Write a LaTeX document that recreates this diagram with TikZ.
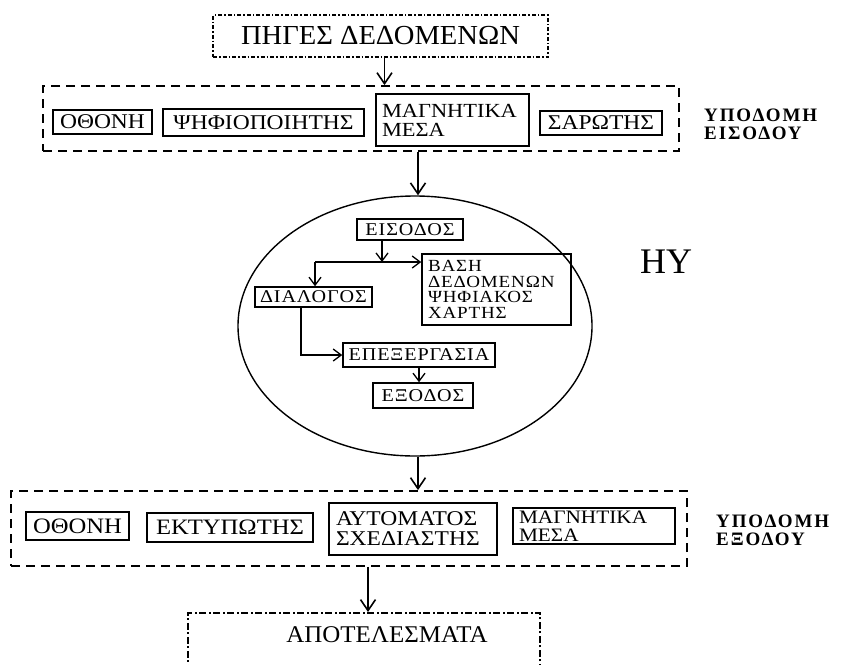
\documentclass[tikz,border=0pt]{standalone}
\usepackage{fontspec}
\setmainfont{Liberation Serif}
\newfontfamily\boxfont[FakeStretch=1.12]{Liberation Serif}
\newfontfamily\innerfont[FakeStretch=1.12,LetterSpace=5]{Liberation Serif}
\newfontfamily\headfont[FakeStretch=1.04]{Liberation Serif}
\newfontfamily\labfont[LetterSpace=10]{Liberation Serif}
\usetikzlibrary{arrows.meta,shapes.geometric}
\begin{document}
\begin{tikzpicture}[x=1pt,y=-1pt,
  arr/.style={line width=1.6pt,-{Straight Barb[length=11pt,width=15pt,line width=1.6pt]}},
  iarr/.style={line width=1.3pt,-{Straight Barb[length=8pt,width=12pt,line width=1.3pt]}},
  dashbox/.style={draw,line width=1.8pt,dash pattern=on 9pt off 6pt,inner sep=0pt},
  srcbox/.style={draw,line width=1.5pt,dash pattern=on 4pt off 2pt on 1.5pt off 2pt,inner sep=0pt},
  resbox/.style={draw,line width=1.5pt,dash pattern=on 7pt off 2.5pt on 2pt off 2.5pt,inner sep=0pt},
  unit/.style={draw,line width=1.8pt,inner sep=0pt,font=\boxfont\fontsize{21}{21}\selectfont},
  unitout/.style={unit,font=\boxfont\fontsize{22}{22}\selectfont},
  step2/.style={draw,line width=1.5pt,inner sep=0pt,font=\innerfont\fontsize{18}{18}\selectfont},
  sidelabel/.style={inner sep=0pt,anchor=west,align=left,
    font=\labfont\bfseries\fontsize{19}{18}\selectfont}
]
\clip (0,0) rectangle (854,664);
\fill[white] (0,0) rectangle (854,664);

% data sources
\node[srcbox,minimum width=335pt,minimum height=42pt,
  font=\headfont\fontsize{27.5}{28}\selectfont] (src) at (380.5,36) {ΠΗΓΕΣ ΔΕΔΟΜΕΝΩΝ};

% input infrastructure
\node[dashbox,minimum width=636pt,minimum height=65pt] (inbox) at (361,118.5) {};
\node[unit,minimum width=99pt,minimum height=24pt] (in1) at (102.5,122) {ΟΘΟΝΗ};
\node[unit,minimum width=201pt,minimum height=27pt] (in2) at (263.5,122.5) {ΨΗΦΙΟΠΟΙΗΤΗΣ};
\node[unit,minimum width=153pt,minimum height=52pt,align=left,
  text width=141pt,font=\boxfont\fontsize{20}{19}\selectfont] (in3) at (452.5,120) {ΜΑΓΝΗΤΙΚΑ\\ΜΕΣΑ};
\node[unit,minimum width=122pt,minimum height=24pt] (in4) at (601,123) {ΣΑΡΩΤΗΣ};
\node[sidelabel] (inlab) at (704,124) {ΥΠΟΔΟΜΗ\\ΕΙΣΟΔΟΥ};

\draw[arr] ([xshift=4pt]src.south) -- ([xshift=4pt]src.south |- inbox.north);

% computer
\node[draw,ellipse,line width=1.4pt,minimum width=354pt,minimum height=260pt] (hy) at (415,326) {};
\node[font=\fontsize{36}{36}\selectfont,inner sep=0pt] (hylab) at (666,262) {ΗΥ};

\node[step2,minimum width=106pt,minimum height=21pt] (ein) at (410,229.5) {ΕΙΣΟΔΟΣ};
\node[step2,minimum width=149pt,minimum height=71pt,align=left,text width=137pt,
  font=\innerfont\fontsize{17}{15.5}\selectfont] (edb) at (496.5,289.5)
  {ΒΑΣΗ\\ΔΕΔΟΜΕΝΩΝ\\ΨΗΦΙΑΚΟΣ\\ΧΑΡΤΗΣ};
\node[step2,minimum width=117pt,minimum height=20pt] (edlg) at (313.5,297) {ΔΙΑΛΟΓΟΣ};
\node[step2,minimum width=152pt,minimum height=24pt] (eproc) at (419,355) {ΕΠΕΞΕΡΓΑΣΙΑ};
\node[step2,minimum width=100pt,minimum height=25pt] (eout) at (423,395.5) {ΕΞΟΔΟΣ};

\coordinate (j) at (382,262);
\coordinate (jl) at (315,262);
\draw[iarr] (ein.south -| j) -- (j);
\draw[iarr] (jl) -- (jl -| edb.west);
\draw[iarr] (jl) -- (jl |- edlg.north);
\draw[iarr] ([xshift=-12.5pt]edlg.south) |- (eproc.west);
\draw[iarr] (eproc.south) -- (eproc.south |- eout.north);

\draw[arr] ([xshift=3pt]hy.north |- inbox.south) -- ([xshift=3pt]hy.north);

% output infrastructure
\node[dashbox,minimum width=676pt,minimum height=75pt] (outbox) at (349,528.5) {};
\node[unitout,minimum width=103pt,minimum height=28pt] (out1) at (77.5,526) {ΟΘΟΝΗ};
\node[unitout,minimum width=166pt,minimum height=29pt] (out2) at (230,527.5) {ΕΚΤΥΠΩΤΗΣ};
\node[unitout,minimum width=168pt,minimum height=52pt,align=left,text width=154pt,
  font=\boxfont\fontsize{21}{20}\selectfont] (out3) at (413,529) {ΑΥΤΟΜΑΤΟΣ\\ΣΧΕΔΙΑΣΤΗΣ};
\node[unitout,minimum width=162pt,minimum height=36pt,align=left,text width=150pt,
  font=\boxfont\fontsize{19}{18}\selectfont] (out4) at (594,526) {ΜΑΓΝΗΤΙΚΑ\\ΜΕΣΑ};
\node[sidelabel] (outlab) at (716,530) {ΥΠΟΔΟΜΗ\\ΕΞΟΔΟΥ};

\draw[arr] ([xshift=3pt]hy.south) -- ([xshift=3pt]hy.south |- outbox.north);

% results
\node[resbox,minimum width=352pt,minimum height=70pt,anchor=north] (res) at (364,612) {};
\node[font=\headfont\fontsize{24}{24}\selectfont,inner sep=0pt] (restxt) at (387,635) {ΑΠΟΤΕΛΕΣΜΑΤΑ};
\draw[arr] ([xshift=4pt]res.north |- outbox.south) -- ([xshift=4pt]res.north);
\end{tikzpicture}
\end{document}
